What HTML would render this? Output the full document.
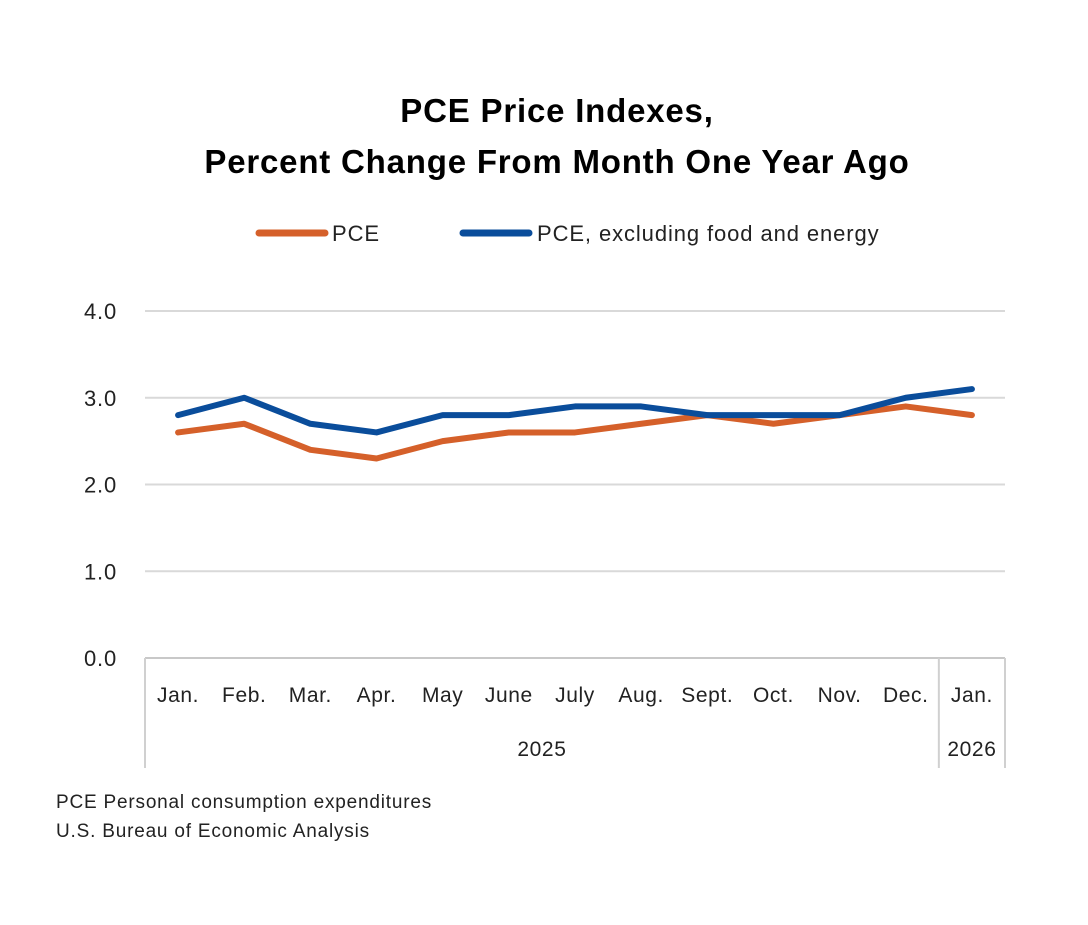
<!DOCTYPE html>
<html><head><meta charset="utf-8"><style>
body{margin:0;background:#fff;width:1088px;height:920px;overflow:hidden;font-family:"Liberation Sans",sans-serif}
</style></head><body>
<svg width="1088" height="920" font-family="Liberation Sans, sans-serif">
<text x="557" y="122" text-anchor="middle" font-size="33" font-weight="bold" letter-spacing="0.8">PCE Price Indexes,</text>
<text x="557" y="173" text-anchor="middle" font-size="33" font-weight="bold" letter-spacing="0.8">Percent Change From Month One Year Ago</text>
<g>
<line x1="259" y1="233" x2="325" y2="233" stroke="#d5602a" stroke-width="7" stroke-linecap="round"/>
<text x="332" y="241" font-size="22" letter-spacing="0.9" fill="#222">PCE</text>
<line x1="463" y1="233" x2="529" y2="233" stroke="#0a4d9b" stroke-width="7" stroke-linecap="round"/>
<text x="537" y="241" font-size="22" letter-spacing="0.9" fill="#222">PCE, excluding food and energy</text>
</g>
<g id="grid"></g><g id="axes"></g><g id="series"></g>
<text x="56" y="808" font-size="19" letter-spacing="0.8" fill="#222">PCE Personal consumption expenditures</text>
<text x="56" y="837" font-size="19" letter-spacing="0.8" fill="#222">U.S. Bureau of Economic Analysis</text>
</svg>
<script>
const categories=["Jan.","Feb.","Mar.","Apr.","May","June","July","Aug.","Sept.","Oct.","Nov.","Dec.","Jan."];
const pce=[2.6,2.7,2.4,2.3,2.5,2.6,2.6,2.7,2.8,2.7,2.8,2.9,2.8];
const core=[2.8,3.0,2.7,2.6,2.8,2.8,2.9,2.9,2.8,2.8,2.8,3.0,3.1];
const yTicks=[0,1,2,3,4];
const years=[{label:"2025",from:0,to:12},{label:"2026",from:12,to:13}];
const NS="http://www.w3.org/2000/svg";
const L=145,R=1005,T=311,B=658,ymax=4;
const step=(R-L)/categories.length;
const x=i=>L+step*(i+0.5), xe=i=>L+step*i, y=v=>B-(v/ymax)*(B-T);
function mk(t,a,p){const e=document.createElementNS(NS,t);for(const k in a)e.setAttribute(k,a[k]);document.getElementById(p).appendChild(e);return e;}
yTicks.forEach(v=>{
 const g=mk("line",{x1:L,x2:R,y1:y(v),y2:y(v),stroke:v===0?"#c8c8c8":"#d9d9d9","stroke-width":2},"grid");
 
 
 const t=mk("text",{x:117,y:y(v)+8,"text-anchor":"end","font-size":22,"letter-spacing":0.8,fill:"#222"},"axes");t.textContent=v.toFixed(1);
 
 
});
categories.forEach((c,i)=>{
 const t=mk("text",{x:x(i),y:702,"text-anchor":"middle","font-size":21,"letter-spacing":0.6,fill:"#222"},"axes");t.textContent=c;
 
 
});
[0,12,13].forEach(i=>{
 const l=mk("line",{x1:xe(i),x2:xe(i),y1:B,y2:768,stroke:"#d0d0d0","stroke-width":2},"axes");
 
 
});
years.forEach(yr=>{
 const t=mk("text",{x:(xe(yr.from)+xe(yr.to))/2,y:756,"text-anchor":"middle","font-size":21,"letter-spacing":0.6,fill:"#222"},"axes");t.textContent=yr.label;
 
 
});
function line(d,col,name){
 const p=mk("polyline",{points:d.map((v,i)=>x(i)+","+y(v)).join(" "),fill:"none",stroke:col,"stroke-width":6,"stroke-linejoin":"round","stroke-linecap":"round"},"series");
 
 
}
line(pce,"#d5602a","pce-line");
line(core,"#0a4d9b","core-pce-line");
</script>
</body></html>
